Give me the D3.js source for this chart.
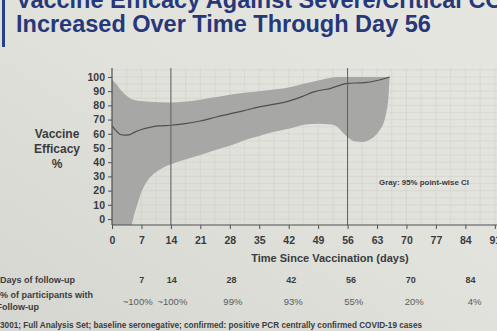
<!DOCTYPE html>
<html>
<head>
<meta charset="utf-8">
<script src="https://cdn.jsdelivr.net/npm/d3@7"></script>
<style>
  html, body { margin: 0; padding: 0; background: #dfdfd9; }
  svg { display: block; font-family: "Liberation Sans", Arial, sans-serif; }
</style>
</head>
<body>
<svg id="chart" width="497" height="331"></svg>
<script>
// Vaccine efficacy point estimate by day since vaccination
const veDays  = [0, 1, 2, 3, 4, 5, 6, 7, 9, 11, 14, 17, 21, 25, 28, 31, 35, 38, 42, 45, 48, 52, 56, 60, 63, 66];
const veValue = [65.5, 62, 59.5, 59, 59.2, 60.5, 62, 63, 64.5, 65.5, 66, 67, 69, 72, 74, 76, 79, 80.5, 83, 86, 89.5, 92, 95.5, 96, 97.5, 100];

// 95% point-wise confidence band
const ciDays  = [0, 1, 2, 3, 4, 5, 6, 7, 8, 10, 12, 14, 17, 21, 24, 28, 32, 35, 38, 42, 46, 49, 52, 53.5, 55, 56, 57, 58, 59.5, 61, 62.5, 63.5, 64.5, 65.2, 65.7, 66];
const ciUpper = [98, 95, 91, 88, 85.5, 84, 83.5, 83, 82.8, 82.4, 82.2, 82, 82.5, 84, 85.5, 87.5, 89, 90, 91, 92.5, 95.5, 97.5, 99.5, 100, 100, 100, 100, 100, 100, 100, 100, 100, 100, 100, 100, 100];
const ciLower = [-80, -65, -50, -30, -15, 0, 10, 19, 25, 32, 36, 38.5, 41.5, 45, 48, 51.5, 56, 58.5, 61, 63.5, 66.5, 67, 66.5, 65, 60.5, 57.5, 55.5, 54.5, 54.3, 55.5, 58.5, 62, 67, 75, 85, 100];

// Axis ticks and reference days
const xTicks = [0, 7, 14, 21, 28, 35, 42, 49, 56, 63, 70, 77, 84, 91];
const yTicks = [0, 10, 20, 30, 40, 50, 60, 70, 80, 90, 100];
const refDays = [14, 56];

// Follow-up table
const followDays = [7, 14, 28, 42, 56, 70, 84];
const followPct  = ["~100%", "~100%", "99%", "93%", "55%", "20%", "4%"];

const svg = d3.select("#chart");
const W = 497, H = 331;

// Background with slight light falloff
const defs = svg.append("defs");
const bg = defs.append("linearGradient").attr("id", "bg").attr("x1", 0).attr("y1", 1).attr("x2", 1).attr("y2", 0);
bg.append("stop").attr("offset", "0%").attr("stop-color", "#d6d6d0");
bg.append("stop").attr("offset", "55%").attr("stop-color", "#e2e2dc");
bg.append("stop").attr("offset", "100%").attr("stop-color", "#e6e6e1");
svg.append("rect").attr("width", W).attr("height", H).attr("fill", "url(#bg)");

// Plot region
const pL = 112, pR = 499, pT = 68, pB = 225;
const x = d3.scaleLinear().domain([0, 92]).range([pL, pR]);
const y = d3.scaleLinear().domain([-4.2, 106.3]).range([pB, pT]);

defs.append("clipPath").attr("id", "plotClip")
  .append("rect").attr("x", pL).attr("y", pT).attr("width", pR - pL).attr("height", pB - pT);

// Faint grid
const grid = svg.append("g").attr("stroke", "#cfcfc9").attr("stroke-width", 0.6).attr("opacity", 0.8);
grid.selectAll("line.v").data(d3.range(3.5, 92, 3.5)).join("line")
  .attr("x1", d => x(d)).attr("x2", d => x(d)).attr("y1", pT).attr("y2", pB);
grid.selectAll("line.h").data(d3.range(0, 106, 5)).join("line")
  .attr("x1", pL).attr("x2", pR).attr("y1", d => y(d)).attr("y2", d => y(d));

// Confidence band
const ci = ciDays.map((d, i) => ({ d, lo: ciLower[i], hi: ciUpper[i] }));
const area = d3.area().x(p => x(p.d)).y0(p => y(p.lo)).y1(p => y(p.hi)).curve(d3.curveMonotoneX);
svg.append("path").datum(ci).attr("clip-path", "url(#plotClip)")
  .attr("d", area).attr("fill", "#a7a8a5");

// Point estimate
const ve = veDays.map((d, i) => ({ d, v: veValue[i] }));
svg.append("path").datum(ve)
  .attr("d", d3.line().x(p => x(p.d)).y(p => y(p.v)).curve(d3.curveMonotoneX))
  .attr("fill", "none").attr("stroke", "#4d4e50").attr("stroke-width", 1.2);

// Reference lines at day 14 and day 56
svg.selectAll("line.ref").data(refDays).join("line")
  .attr("x1", d => x(d)).attr("x2", d => x(d)).attr("y1", pT).attr("y2", pB)
  .attr("stroke", "#5c5d5f").attr("stroke-width", 1);

// Axes
const xAxis = svg.append("g").attr("transform", `translate(0,${pB})`)
  .call(d3.axisBottom(x).tickValues(xTicks).tickSize(4).tickPadding(8).tickFormat(d3.format("d")));
const yAxis = svg.append("g").attr("transform", `translate(${pL},0)`)
  .call(d3.axisLeft(y).tickValues(yTicks).tickSize(4).tickPadding(3).tickFormat(d3.format("d")));
[xAxis, yAxis].forEach(a => {
  a.select(".domain").attr("stroke", "#4f5052").attr("stroke-width", 1.2);
  a.selectAll(".tick line").attr("stroke", "#4f5052").attr("stroke-width", 1);
  a.selectAll(".tick text").attr("fill", "#3a3b3d").attr("font-size", 10.5).attr("font-weight", "bold")
    .attr("font-family", "Liberation Sans, Arial, sans-serif");
});
yAxis.select(".domain").attr("d", `M-0,${pT}V${pB}`);
xAxis.select(".domain").attr("d", `M${pL},0H${W}`);

// Axis titles
const axisTitle = svg.append("g").attr("fill", "#3a3b3d").attr("font-weight", "bold");
axisTitle.selectAll("text.yt").data(["Vaccine", "Efficacy", "%"]).join("text")
  .attr("x", 57).attr("y", (d, i) => 137.5 + i * 15).attr("text-anchor", "middle")
  .attr("font-size", 12).text(d => d);
axisTitle.append("text").attr("x", 330).attr("y", 262).attr("text-anchor", "middle")
  .attr("font-size", 11).text("Time Since Vaccination (days)");

// Band note
svg.append("text").attr("x", 379).attr("y", 185).attr("fill", "#3a3b3d")
  .attr("font-size", 7.9).attr("font-weight", "bold").text("Gray: 95% point-wise CI");

// Title
svg.append("rect").attr("x", 2).attr("y", 0).attr("width", 3).attr("height", 47).attr("fill", "#27408c");
const title = svg.append("g").attr("fill", "#26387a").attr("font-weight", "bold").attr("font-size", 23.5);
title.append("text").attr("x", 16).attr("y", 8).text("Vaccine Efficacy Against Severe/Critical COVID-19");
title.append("text").attr("x", 16).attr("y", 32).text("Increased Over Time Through Day 56");

// Follow-up table
const tbl = svg.append("g").attr("fill", "#3a3b3d").attr("font-size", 9);
tbl.append("text").attr("x", 75).attr("y", 282.5).attr("text-anchor", "end").attr("font-weight", "bold").text("Days of follow-up");
tbl.append("text").attr("x", 93).attr("y", 298).attr("text-anchor", "end").attr("font-weight", "bold").text("% of participants with");
tbl.append("text").attr("x", 39).attr("y", 310).attr("text-anchor", "end").attr("font-weight", "bold").text("Follow-up");
tbl.selectAll("text.fd").data(followDays).join("text")
  .attr("x", d => x(d) + d * 0.06).attr("y", 282.5).attr("text-anchor", "middle")
  .attr("font-weight", "bold").text(d => d);
tbl.selectAll("text.fp").data(followPct).join("text")
  .attr("x", (d, i) => x(followDays[i]) + followDays[i] * 0.11 + (i === 0 ? -4.5 : 0)).attr("y", 305)
  .attr("text-anchor", "middle").attr("font-size", 9.5).attr("fill", "#5a5b5d").text(d => d);

// Footnote
svg.append("text").attr("x", 422).attr("y", 328).attr("text-anchor", "end").attr("fill", "#3a3b3d")
  .attr("font-size", 8.2).attr("font-weight", "bold")
  .text("COV3001; Full Analysis Set; baseline seronegative; confirmed: positive PCR centrally confirmed COVID-19 cases");
</script>
</body>
</html>
